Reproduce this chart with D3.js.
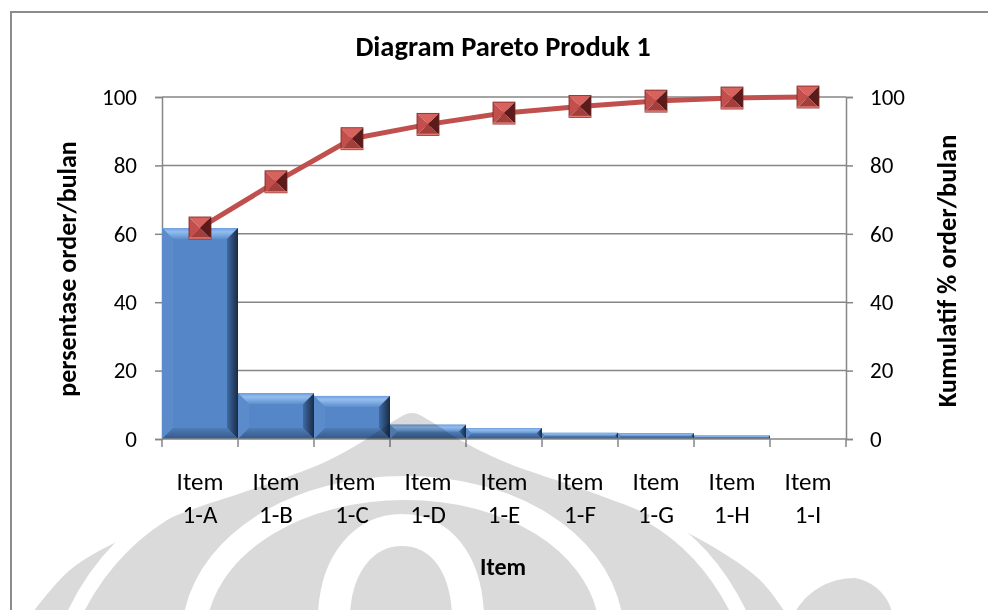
<!DOCTYPE html>
<html>
<head>
<meta charset="utf-8">
<script src="https://cdn.jsdelivr.net/npm/d3@7"></script>
<style>
  html, body { margin: 0; padding: 0; background: #fff; }
  svg { display: block; }
  text { font-family: Carlito, Lato, "Open Sans", sans-serif; fill: #000; }
</style>
</head>
<body>
<svg id="chart" width="988" height="610"></svg>
<script>
// Pareto data: share of monthly orders per item and the running total
const categories = ["1-A", "1-B", "1-C", "1-D", "1-E", "1-F", "1-G", "1-H", "1-I"];
const percentOrders = [61.7, 13.4, 12.6, 4.2, 3.2, 1.8, 1.7, 1.0, 0.1];
const cumulativePercent = [61.7, 75.2, 87.8, 92.0, 95.3, 97.2, 98.8, 99.7, 100];
const yTicks = [0, 20, 40, 60, 80, 100];

const chartTitle = "Diagram Pareto Produk 1";
const leftTitle = "persentase order/bulan";
const rightTitle = "Kumulatif % order/bulan";
const xTitle = "Item";
const itemPrefix = "Item";

const W = 988, H = 610;
const plot = { left: 162, right: 846, top: 97, bottom: 439 };

const svg = d3.select("#chart");
const defs = svg.append("defs");

// gradients for the bevelled bars
const gTop = defs.append("linearGradient").attr("id", "bevTop").attr("x1", 0).attr("y1", 0).attr("x2", 0).attr("y2", 1);
gTop.append("stop").attr("offset", "0%").attr("stop-color", "#6f9fdc");
gTop.append("stop").attr("offset", "35%").attr("stop-color", "#93bdf0");
gTop.append("stop").attr("offset", "100%").attr("stop-color", "#5d8ecd");
const gRight = defs.append("linearGradient").attr("id", "bevRight").attr("x1", 0).attr("y1", 0).attr("x2", 1).attr("y2", 0);
gRight.append("stop").attr("offset", "0%").attr("stop-color", "#3f6ba3");
gRight.append("stop").attr("offset", "100%").attr("stop-color", "#182b45");
const gBottom = defs.append("linearGradient").attr("id", "bevBottom").attr("x1", 0).attr("y1", 0).attr("x2", 0).attr("y2", 1);
gBottom.append("stop").attr("offset", "0%").attr("stop-color", "#4f7cb5");
gBottom.append("stop").attr("offset", "100%").attr("stop-color", "#35598a");

// page frame
svg.append("rect").attr("x", 11).attr("y", 12).attr("width", W + 20).attr("height", H + 20)
  .attr("fill", "#fff").attr("stroke", "#8c8c8c").attr("stroke-width", 2);

const x = d3.scaleBand().domain(categories).range([plot.left, plot.right]).padding(0);
const yL = d3.scaleLinear().domain([0, 100]).range([plot.bottom, plot.top]);
const yR = d3.scaleLinear().domain([0, 100]).range([plot.bottom, plot.top]);

const gridColor = "#868686";

// horizontal gridlines
svg.append("g").selectAll("line").data(yTicks.filter(v => v > 0)).join("line")
  .attr("x1", plot.left).attr("x2", plot.right)
  .attr("y1", d => yL(d)).attr("y2", d => yL(d))
  .attr("stroke", gridColor).attr("stroke-width", 1.5);

// left axis
const axL = svg.append("g").attr("transform", `translate(${plot.left},0)`)
  .call(d3.axisLeft(yL).tickValues(yTicks).tickSize(7).tickPadding(18).tickFormat(d3.format("d")));
// right axis
const axR = svg.append("g").attr("transform", `translate(${plot.right},0)`)
  .call(d3.axisRight(yR).tickValues(yTicks).tickSize(7).tickPadding(17).tickFormat(d3.format("d")));
[axL, axR].forEach(ax => {
  ax.select(".domain").attr("stroke", gridColor).attr("stroke-width", 1.5);
  ax.selectAll(".tick line").attr("stroke", gridColor).attr("stroke-width", 1.5);
  ax.selectAll(".tick text").attr("font-size", 23).attr("font-family", "Carlito, Lato, sans-serif").attr("fill", "#000");
});

// bars with a bevelled look
const bars = svg.append("g");
categories.forEach((c, i) => {
  const v = percentOrders[i];
  const x0 = x(c), x1 = x(c) + x.bandwidth();
  const y0 = yL(v), y1 = yL(0);
  const h = y1 - y0;
  if (h < 1) return;
  const b = Math.min(11, h / 2, (x1 - x0) / 2);
  const g = bars.append("g");
  g.append("rect").attr("x", x0).attr("y", y0).attr("width", x1 - x0).attr("height", h).attr("fill", "#5586c7");
  const poly = pts => pts.map(p => p.join(",")).join(" ");
  g.append("polygon").attr("points", poly([[x0, y0], [x1, y0], [x1 - b, y0 + b], [x0 + b, y0 + b]])).attr("fill", "url(#bevTop)");
  g.append("polygon").attr("points", poly([[x0, y0], [x0 + b, y0 + b], [x0 + b, y1 - b], [x0, y1]])).attr("fill", "#5b8bcb");
  g.append("polygon").attr("points", poly([[x1, y0], [x1, y1], [x1 - b, y1 - b], [x1 - b, y0 + b]])).attr("fill", "url(#bevRight)");
  g.append("polygon").attr("points", poly([[x0, y1], [x1, y1], [x1 - b, y1 - b], [x0 + b, y1 - b]])).attr("fill", "url(#bevBottom)");
});

// x axis: baseline and ticks at category boundaries
const xBounds = categories.map(c => x(c)).concat([plot.right]);
svg.append("line").attr("x1", plot.left).attr("x2", plot.right)
  .attr("y1", plot.bottom).attr("y2", plot.bottom).attr("stroke", gridColor).attr("stroke-width", 1.5);
svg.append("g").selectAll("line").data(xBounds).join("line")
  .attr("x1", d => d).attr("x2", d => d).attr("y1", plot.bottom).attr("y2", plot.bottom + 8)
  .attr("stroke", gridColor).attr("stroke-width", 1.5);

// watermark emblem in the lower part of the page
const wm = svg.append("g").style("mix-blend-mode", "multiply");
wm.append("rect").attr("x", 12).attr("y", 388).attr("width", W).attr("height", H - 388)
  .attr("fill", "#fff").attr("opacity", 0.2).style("mix-blend-mode", "normal");
const emblem = wm.append("g");
const outline = d3.line().curve(d3.curveCatmullRom.alpha(0.5));
emblem.append("path")
  .attr("d", outline([[33, 612], [70, 570], [120, 540], [185, 512], [250, 490], [325, 462], [365, 440],
    [392, 422], [412, 413], [432, 422], [460, 440], [505, 462], [585, 490], [650, 515], [710, 545],
    [760, 580], [785, 612]]) + "Z")
  .attr("fill", "#dadada");
emblem.append("path")
  .attr("d", "M74,615 C100,560 140,525 178,505")
  .attr("fill", "none").attr("stroke", "#fff").attr("stroke-width", 15);
emblem.append("path")
  .attr("d", "M740,615 C716,565 685,535 650,515")
  .attr("fill", "none").attr("stroke", "#fff").attr("stroke-width", 15);
emblem.append("path")
  .attr("d", "M196,615 C212,540 300,488 405,488 C510,488 595,540 610,615")
  .attr("fill", "none").attr("stroke", "#fff").attr("stroke-width", 24);
emblem.append("path")
  .attr("d", "M334,615 C336,562 365,530 402,530 C440,530 466,562 468,615")
  .attr("fill", "none").attr("stroke", "#fff").attr("stroke-width", 32);
emblem.append("path")
  .attr("d", "M795,612 C808,590 830,578 855,578 C875,582 888,596 892,612 Z")
  .attr("fill", "#dadada");

// cumulative line with pyramid markers
const cx = c => x(c) + x.bandwidth() / 2;
const cumData = categories.map((c, i) => ({ c, v: cumulativePercent[i] }));
svg.append("path").datum(cumData)
  .attr("d", d3.line().x(d => cx(d.c)).y(d => yR(d.v)))
  .attr("fill", "none").attr("stroke", "#c0504d").attr("stroke-width", 5).attr("stroke-linejoin", "round");

const mk = svg.append("g");
cumData.forEach(d => {
  const px = cx(d.c), py = yR(d.v), s = 11;
  const g = mk.append("g");
  const tri = (pts, fill) => g.append("polygon").attr("points", pts.map(p => p.join(",")).join(" ")).attr("fill", fill);
  tri([[px - s, py - s], [px + s, py - s], [px, py]], "#d8625e");
  tri([[px - s, py - s], [px, py], [px - s, py + s]], "#c24f4c");
  tri([[px + s, py - s], [px + s, py + s], [px, py]], "#5a1b1a");
  tri([[px - s, py + s], [px + s, py + s], [px, py]], "#a33e3b");
  g.append("rect").attr("x", px - s).attr("y", py - s).attr("width", 2 * s).attr("height", 2 * s)
    .attr("fill", "none").attr("stroke", "#7a2624").attr("stroke-width", 0.8);
  g.append("line").attr("x1", px - s).attr("x2", px + s).attr("y1", py + s - 1).attr("y2", py + s - 1)
    .attr("stroke", "#e07a76").attr("stroke-width", 1.5);
});

// category labels on two lines
const lab = svg.append("g");
categories.forEach(c => {
  const t = lab.append("text").attr("text-anchor", "middle").attr("font-size", 25);
  t.append("tspan").attr("x", cx(c)).attr("y", 490).text(itemPrefix);
  t.append("tspan").attr("x", cx(c)).attr("y", 523).text(c);
});

// titles
svg.append("text").attr("x", 503).attr("y", 56).attr("text-anchor", "middle")
  .attr("font-size", 28.5).attr("font-weight", "bold").text(chartTitle);
svg.append("text").attr("transform", "translate(76,269) rotate(-90)").attr("text-anchor", "middle")
  .attr("font-size", 26).attr("font-weight", "bold").text(leftTitle);
svg.append("text").attr("transform", "translate(956,271) rotate(-90)").attr("text-anchor", "middle")
  .attr("font-size", 26.5).attr("font-weight", "bold").text(rightTitle);
svg.append("text").attr("x", 503).attr("y", 575).attr("text-anchor", "middle")
  .attr("font-size", 24).attr("font-weight", "bold").text(xTitle);
</script>
</body>
</html>
